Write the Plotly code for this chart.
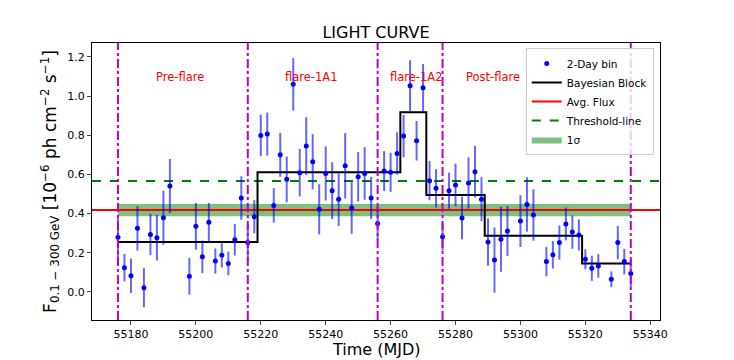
import plotly.graph_objects as go

# 2-day binned light curve (MJD, flux in 1e-6 ph cm^-2 s^-1, 1-sigma error)
time_mjd = [55176, 55178, 55180, 55182, 55184, 55186, 55188, 55190, 55192,
            55198, 55200, 55202, 55204, 55206, 55208, 55210, 55212, 55214,
            55216, 55218, 55220, 55222, 55224, 55226, 55228, 55230, 55232,
            55234, 55236, 55238, 55240, 55242, 55244, 55246, 55248, 55250,
            55252, 55254, 55256, 55258, 55260, 55262, 55264, 55266, 55268,
            55270, 55272, 55274, 55276, 55278, 55280, 55282, 55284, 55286,
            55288, 55290, 55292, 55294, 55296, 55300, 55302, 55304, 55308,
            55310, 55312, 55314, 55316, 55318, 55320, 55322, 55324, 55328,
            55330, 55332, 55334]
flux = [0.279, 0.124, 0.083, 0.325, 0.022, 0.294, 0.277, 0.379, 0.541,
        0.080, 0.335, 0.180, 0.356, 0.158, 0.187, 0.146, 0.267, 0.480,
        0.253, 0.384, 0.799, 0.806, 0.442, 0.700, 0.575, 1.060, 0.609,
        0.745, 0.665, 0.422, 0.605, 0.517, 0.473, 0.644, 0.429, 0.588,
        0.605, 0.480, 0.350, 0.617, 0.611, 0.707, 0.796, 1.053, 0.772,
        1.042, 0.568, 0.529, 0.282, 0.517, 0.546, 0.378, 0.556, 0.614,
        0.474, 0.255, 0.163, 0.269, 0.311, 0.362, 0.447, 0.393, 0.155,
        0.190, 0.252, 0.347, 0.306, 0.291, 0.167, 0.121, 0.133, 0.065,
        0.252, 0.155, 0.095]
flux_err = [0.100, 0.070, 0.088, 0.113, 0.100, 0.105, 0.116, 0.138, 0.138,
            0.094, 0.119, 0.083, 0.098, 0.064, 0.062, 0.060, 0.081, 0.111,
            0.094, 0.085, 0.106, 0.110, 0.088, 0.112, 0.117, 0.134, 0.121,
            0.147, 0.141, 0.128, 0.138, 0.145, 0.136, 0.167, 0.132, 0.126,
            0.134, 0.107, 0.085, 0.102, 0.100, 0.108, 0.108, 0.130, 0.101,
            0.122, 0.100, 0.098, 0.070, 0.092, 0.109, 0.109, 0.131, 0.132,
            0.112, 0.121, 0.166, 0.166, 0.128, 0.132, 0.139, 0.131, 0.075,
            0.070, 0.087, 0.084, 0.085, 0.079, 0.051, 0.064, 0.060, 0.040,
            0.085, 0.065, 0.070]

# Bayesian blocks
block_edges = [55176, 55219, 55263, 55271, 55289, 55319, 55334]
block_levels = [0.255, 0.611, 0.917, 0.495, 0.287, 0.146]

avg_flux = 0.418
avg_sigma = 0.031
threshold = 0.566

# flare period boundaries and labels
period_edges = [55176, 55216, 55256, 55276, 55334]
period_labels = ["Pre-flare", "flare-1A1", "flare-1A2", "Post-flare"]
label_x = [55195, 55235.5, 55268, 55291.5]

x_range = [55168, 55343]
y_range = [-0.143, 1.271]

fig = go.Figure()

# 1 sigma band (drawn first, underneath everything)
band_x = [period_edges[0], period_edges[-1], period_edges[-1], period_edges[0], period_edges[0]]
band_y = [avg_flux - avg_sigma, avg_flux - avg_sigma, avg_flux + avg_sigma,
          avg_flux + avg_sigma, avg_flux - avg_sigma]
fig.add_trace(go.Scatter(
    x=band_x, y=band_y, mode='lines', fill='toself',
    fillcolor='rgba(0,128,0,0.5)', line=dict(width=0, color='rgba(0,128,0,0.5)'),
    name='1σ'
))
fig.add_trace(go.Scatter(
    x=x_range, y=[threshold, threshold], mode='lines',
    line=dict(color='green', width=2, dash='dash'), name='Threshold-line'
))
fig.add_trace(go.Scatter(
    x=x_range, y=[avg_flux, avg_flux], mode='lines',
    line=dict(color='red', width=2), name='Avg. Flux'
))
fig.add_trace(go.Scatter(
    x=block_edges, y=block_levels + [block_levels[-1]], mode='lines',
    line=dict(color='black', width=2, shape='hv'), name='Bayesian Block'
))
fig.add_trace(go.Scatter(
    x=time_mjd, y=flux, mode='markers', name='2-Day bin',
    marker=dict(color='blue', size=5),
    error_y=dict(type='data', array=flux_err, visible=True,
                 color='rgba(0,0,255,0.6)', thickness=2, width=0),
))

for edge in period_edges:
    fig.add_vline(x=edge, line_dash='dashdot', line_color='#bf00bf', line_width=2)

for lbl, lx in zip(period_labels, label_x):
    fig.add_annotation(x=lx, y=1.098, text=lbl, showarrow=False,
                       font=dict(color='red', size=11.5))

# x axis title placed by hand so it fits in the bottom margin
fig.add_annotation(x=0.5, y=-0.106, xref='paper', yref='paper', text='Time (MJD)',
                   showarrow=False, yanchor='middle', font=dict(size=16))

# page body has an 8px margin, so the figure is a bit smaller than the window
fig.update_layout(
    width=726, height=352,
    margin=dict(l=84, r=74, t=35, b=40),
    paper_bgcolor='white', plot_bgcolor='white',
    font=dict(family='DejaVu Sans', color='black'),
    title=dict(text='LIGHT CURVE', x=0.5, xref='paper', y=0.932,
               yanchor='middle', font=dict(size=16)),
    legend=dict(x=0.989, y=0.982, xanchor='right', yanchor='top',
                traceorder='reversed', bgcolor='rgba(255,255,255,0.8)',
                bordercolor='#cccccc', borderwidth=1, font=dict(size=10.5),
                tracegroupgap=0, itemwidth=30),
    showlegend=True,
)
fig.update_xaxes(
    range=x_range, dtick=20, tick0=55180, tickformat='d',
    ticks='outside', ticklen=4, tickfont=dict(size=11),
    showline=True, linecolor='black', linewidth=1, mirror=True,
    showgrid=False, zeroline=False,
)
fig.update_yaxes(
    range=y_range,
    title=dict(text='F<sub>0.1 − 300 GeV</sub> [10<sup>−6</sup> ph cm<sup>−2</sup> s<sup>−1</sup>]',
               font=dict(size=17), standoff=6),
    dtick=0.2, tick0=0, tickformat='.1f', ticks='outside', ticklen=4,
    tickfont=dict(size=11),
    showline=True, linecolor='black', linewidth=1, mirror=True,
    showgrid=False, zeroline=False,
)

fig.write_html("out.html")
